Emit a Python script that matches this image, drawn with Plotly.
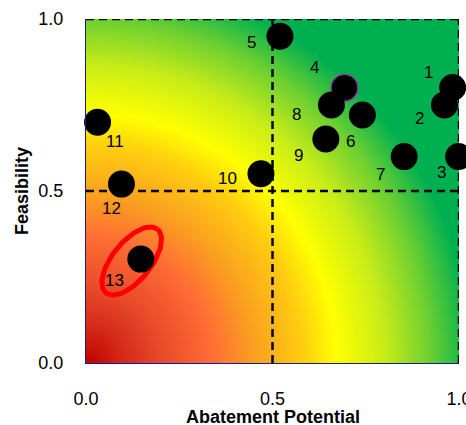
import numpy as np
import plotly.graph_objects as go

# ---------------- data ----------------
point_ids = ["1", "2", "3", "4", "5", "6", "7", "8", "9", "10", "11", "12", "13"]
abatement = [0.983, 0.961, 0.999, 0.693, 0.52, 0.741, 0.853, 0.658, 0.643, 0.469, 0.031, 0.095, 0.147]
feasibility = [0.801, 0.75, 0.60, 0.80, 0.95, 0.721, 0.60, 0.75, 0.651, 0.55, 0.70, 0.52, 0.302]

tick_vals = [0.0, 0.5, 1.0]
tick_text = ["0.0", "0.5", "1.0"]

x_title = "Abatement Potential"
y_title = "Feasibility"

# label offsets (pixels; dx right, dy up)
label_dx = [-24, -25, -17, -30, -28, -12, -24, -35, -27, -33, 17, -10, -26]
label_dy = [15, -13, -16, 20, -6, -27, -18, -9, -16, -5, -19, -24, -21]

# highlighted item (ellipse around point 13)
ellipse_center = (0.1225, 0.2965)
ellipse_semi_major_px = 41
ellipse_semi_minor_px = 19.3
ellipse_angle_deg = 51

# ---------------- layout constants ----------------
W, H = 466, 425
ML, MR, MT, MB = 86, 7, 19, 62
PW, PH = W - ML - MR, H - MT - MB
FONT = "Liberation Sans, Arial"

# background gradient (radial from origin in screen space)
gx = np.linspace(0, 1, 121)
gy = np.linspace(0, 1, 121)
GX, GY = np.meshgrid(gx, gy)
dist = np.sqrt((GX * PW) ** 2 + (GY * PH) ** 2)
dmax = float(np.sqrt(PW ** 2 + PH ** 2))

stops = [
    (0, "#C00000"), (37, "#D42A18"), (75, "#E84A2A"), (126, "#FF6D35"),
    (168, "#FAA020"), (216, "#FFCC10"), (250, "#FFFF00"), (298, "#C8EC18"),
    (343, "#6ED030"), (385, "#00B050"), (dmax, "#00B050"),
]
colorscale = [[s / dmax, c] for s, c in stops]

fig = go.Figure()
fig.add_trace(go.Heatmap(
    x=gx, y=gy, z=dist, zmin=0, zmax=dmax, colorscale=colorscale,
    zsmooth="best", showscale=False, hoverinfo="skip",
))

dash_style = dict(color="black", width=2.5, dash="8px,5px")
for xs, ys in [([0.5, 0.5], [0, 1]), ([0, 1], [0.5, 0.5]), ([0, 1], [1, 1]), ([1, 1], [0, 1])]:
    fig.add_trace(go.Scatter(x=xs, y=ys, mode="lines", line=dash_style,
                             cliponaxis=False, hoverinfo="skip", showlegend=False))

# ellipse
t = np.linspace(0, 2 * np.pi, 121)
th = np.deg2rad(ellipse_angle_deg)
ex = ellipse_semi_major_px * np.cos(t) * np.cos(th) - ellipse_semi_minor_px * np.sin(t) * np.sin(th)
ey = ellipse_semi_major_px * np.cos(t) * np.sin(th) + ellipse_semi_minor_px * np.sin(t) * np.cos(th)
fig.add_trace(go.Scatter(
    x=ellipse_center[0] + ex / PW, y=ellipse_center[1] + ey / PH,
    mode="lines", line=dict(color="#FF0000", width=5),
    cliponaxis=False, hoverinfo="skip", showlegend=False,
))

line_colors = ["rgba(0,0,0,0)"] * len(point_ids)
line_widths = [0] * len(point_ids)
line_colors[3] = "#7E4E96"
line_widths[3] = 1.5
fig.add_trace(go.Scatter(
    x=abatement, y=feasibility, mode="markers",
    marker=dict(size=27, color="black", line=dict(color=line_colors, width=line_widths)),
    cliponaxis=False, showlegend=False,
))

for pid, xv, yv, dx, dy in zip(point_ids, abatement, feasibility, label_dx, label_dy):
    fig.add_annotation(x=xv, y=yv, text=pid, showarrow=False, xshift=dx, yshift=dy,
                       font=dict(family=FONT, size=17, color="black"))

# x axis title (placed below tick labels)
fig.add_annotation(x=0.5, y=0, xref="paper", yref="paper", text=f"<b>{x_title}</b>",
                   showarrow=False, xanchor="center", yanchor="middle", yshift=-54,
                   font=dict(family=FONT, size=18, color="black"))

axis_common = dict(
    range=[0, 1], tickvals=tick_vals, ticktext=tick_text, showgrid=False, zeroline=False,
    showline=True, linecolor="#1A1A8A", linewidth=1, ticks="", automargin=False,
    ticklabeloverflow="allow",
    tickfont=dict(family=FONT, size=18, color="black"),
)
fig.update_xaxes(**axis_common, ticklabelstandoff=19)
fig.update_yaxes(**axis_common, ticklabelstandoff=18,
                 title=dict(text=f"<b>{y_title}</b>", standoff=5,
                            font=dict(family=FONT, size=18, color="black")))

fig.update_layout(
    width=W, height=H, margin=dict(l=ML, r=MR, t=MT, b=MB, pad=0),
    paper_bgcolor="white", plot_bgcolor="white", showlegend=False,
)
fig.write_html("out.html", config={"displayModeBar": False},
               post_script="document.body.style.margin='0';document.body.style.overflow='hidden';")
